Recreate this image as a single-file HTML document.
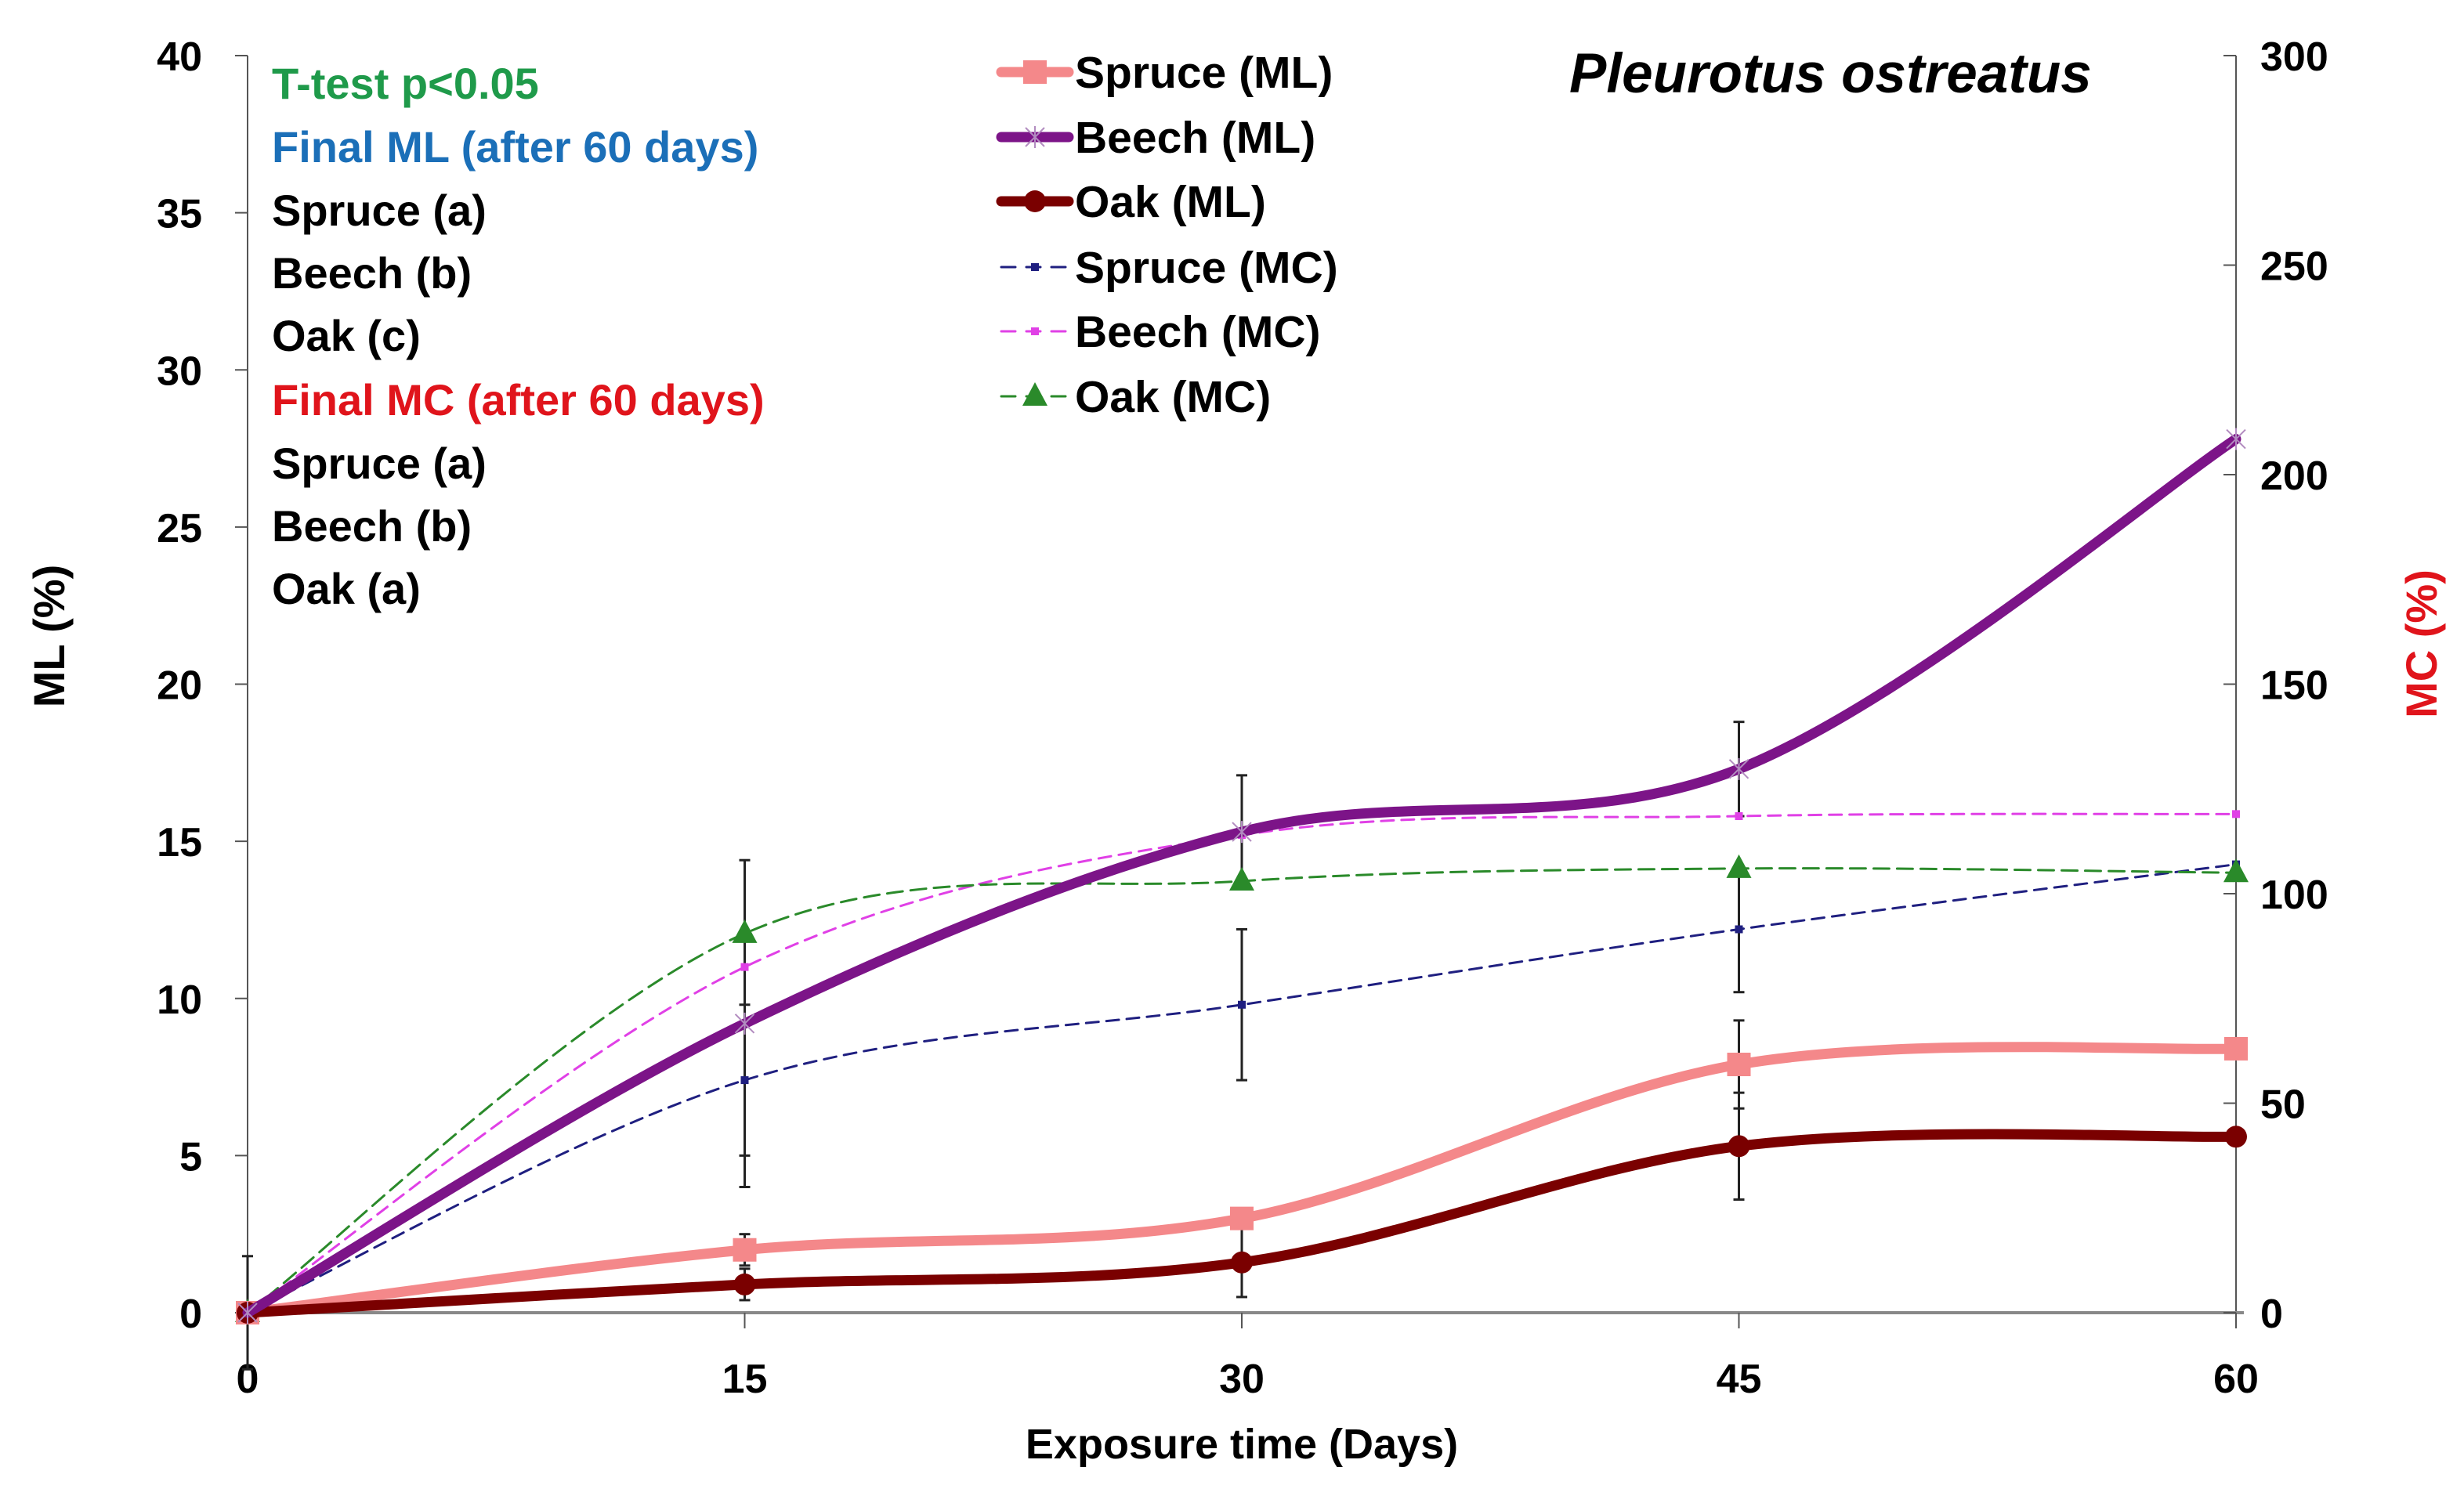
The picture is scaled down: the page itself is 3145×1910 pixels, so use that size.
<!DOCTYPE html>
<html><head><meta charset="utf-8"><style>
html,body{margin:0;padding:0;background:#fff;}
svg{display:block;font-family:"Liberation Sans",sans-serif;font-weight:bold;}
</style></head><body>
<svg id="chart" width="3145" height="1910" viewBox="0 0 3145 1910" xmlns="http://www.w3.org/2000/svg">
<g id="axes"></g>
<g id="series"></g>
<g id="legend"></g>
<text x="2003" y="118" font-size="71" font-style="italic" fill="#000">Pleurotus ostreatus</text>
<g font-size="56">
<text x="347" y="126" fill="#1f9a4a">T-test p&lt;0.05</text>
<text x="347" y="207" fill="#1b6fb8">Final ML (after 60 days)</text>
<text x="347" y="288" fill="#000">Spruce (a)</text>
<text x="347" y="368" fill="#000">Beech (b)</text>
<text x="347" y="448" fill="#000">Oak (c)</text>
<text x="347" y="530" fill="#e0141b">Final MC (after 60 days)</text>
<text x="347" y="611" fill="#000">Spruce (a)</text>
<text x="347" y="691" fill="#000">Beech (b)</text>
<text x="347" y="771" fill="#000">Oak (a)</text>
</g>
<text x="1585" y="1862" font-size="54" text-anchor="middle">Exposure time (Days)</text>
<text transform="translate(82,812) rotate(-90)" font-size="56" text-anchor="middle">ML (%)</text>
<text transform="translate(3110,822) rotate(-90)" font-size="56" text-anchor="middle" fill="#e0141b">MC (%)</text>
</svg>
<script>
const days = [0, 15, 30, 45, 60];
const leftTicks = [0, 5, 10, 15, 20, 25, 30, 35, 40];
const rightTicks = [0, 50, 100, 150, 200, 250, 300];
const spruceML = [0, 2.0, 3.0, 7.9, 8.4];
const beechML = [0, 9.2, 15.3, 17.3, 27.8];
const oakML = [0, 0.9, 1.6, 5.3, 5.6];
const spruceMC = [0, 55.5, 73.5, 91.5, 107];
const beechMC = [0, 82.5, 114, 118.5, 119];
const oakMC = [0, 90.5, 103, 106, 105];
const beechMLErr = [1.8, 5.2, 1.8, 1.5, 0];
const spruceMLErr = [0, 0.5, 0, 1.4, 0];
const oakMLErr = [0, 0.5, 1.1, 1.7, 0];
const spruceMCErr = [0, 18, 18, 15, 0];

const NS = "http://www.w3.org/2000/svg";
const X0 = 316, X1 = 2854, Y0 = 1676, YT = 71;
const xS = d => X0 + (d - 0) / 60 * (X1 - X0);
const yL = v => Y0 - v / 40 * (Y0 - YT);
const yR = v => Y0 - v / 300 * (Y0 - YT);
function mk(tag, attrs, parent) { const e = document.createElementNS(NS, tag); for (const k in attrs) e.setAttribute(k, attrs[k]); parent.appendChild(e); return e; }
const axes = document.getElementById('axes'), ser = document.getElementById('series'), leg = document.getElementById('legend');

let a = mk('line', {x1: X0, y1: YT, x2: X0, y2: Y0, stroke: '#555', 'stroke-width': 2}, axes);
 
a = mk('line', {x1: X1, y1: YT, x2: X1, y2: Y0, stroke: '#555', 'stroke-width': 2}, axes);
 
a = mk('line', {x1: X0, y1: Y0, x2: X1 + 10, y2: Y0, stroke: '#888', 'stroke-width': 4}, axes);
 
leftTicks.forEach(v => {
  mk('line', {x1: X0 - 16, y1: yL(v), x2: X0, y2: yL(v), stroke: '#555', 'stroke-width': 2}, axes);
  const t = mk('text', {x: 258, y: yL(v) + 19, 'font-size': 52, 'text-anchor': 'end'}, axes);
  t.textContent = v;
   
});
rightTicks.forEach(v => {
  mk('line', {x1: X1 - 16, y1: yR(v), x2: X1, y2: yR(v), stroke: '#555', 'stroke-width': 2}, axes);
  const t = mk('text', {x: 2885, y: yR(v) + 19, 'font-size': 52}, axes);
  t.textContent = v;
   
});
days.forEach(d => {
  mk('line', {x1: xS(d), y1: Y0, x2: xS(d), y2: Y0 + 20, stroke: '#555', 'stroke-width': 2}, axes);
  const t = mk('text', {x: xS(d), y: 1778, 'font-size': 52, 'text-anchor': 'middle'}, axes);
  t.textContent = d;
   
});

function smooth(pts) {
  let d = `M${pts[0][0]},${pts[0][1]}`;
  for (let i = 0; i < pts.length - 1; i++) {
    const p0 = pts[i - 1] || pts[i], p1 = pts[i], p2 = pts[i + 1], p3 = pts[i + 2] || p2;
    const t = 6;
    d += ` C${p1[0] + (p2[0] - p0[0]) / t},${p1[1] + (p2[1] - p0[1]) / t} ${p2[0] - (p3[0] - p1[0]) / t},${p2[1] - (p3[1] - p1[1]) / t} ${p2[0]},${p2[1]}`;
  }
  return d;
}
function errBars(vals, errs, ys, name) {
  vals.forEach((v, i) => {
    if (!errs[i]) return;
    const x = xS(days[i]);
    const g = mk('g', {stroke: '#222', 'stroke-width': 3}, ser);
     
    mk('line', {x1: x, y1: ys(v - errs[i]), x2: x, y2: ys(v + errs[i])}, g);
    mk('line', {x1: x - 7, y1: ys(v - errs[i]), x2: x + 7, y2: ys(v - errs[i])}, g);
    mk('line', {x1: x - 7, y1: ys(v + errs[i]), x2: x + 7, y2: ys(v + errs[i])}, g);
  });
}
function marker(type, x, y, color, g) {
  if (type === 'square') mk('rect', {x: x - 15, y: y - 15, width: 30, height: 30, fill: color}, g);
  else if (type === 'circle') mk('circle', {cx: x, cy: y, r: 14, fill: color}, g);
  else if (type === 'tri') mk('polygon', {points: `${x},${y - 18} ${x - 16},${y + 12} ${x + 16},${y + 12}`, fill: color}, g);
  else if (type === 'dot') mk('rect', {x: x - 5, y: y - 5, width: 10, height: 10, fill: color}, g);
  else if (type === 'x') { mk('path', {d: `M${x - 12},${y - 12}L${x + 12},${y + 12}M${x + 12},${y - 12}L${x - 12},${y + 12}M${x},${y - 14}L${x},${y + 14}`, stroke: '#b28cc0', 'stroke-width': 2}, g); }
}
function series(vals, ys, color, width, dash, mtype, name) {
  const g = mk('g', {}, ser);
   
  const pts = vals.map((v, i) => [xS(days[i]), ys(v)]);
  const p = mk('path', {d: smooth(pts), fill: 'none', stroke: color, 'stroke-width': width, 'stroke-linecap': 'round'}, g);
  if (dash) p.setAttribute('stroke-dasharray', dash);
   
  pts.forEach(q => marker(mtype, q[0], q[1], color, g));
}
errBars(beechML, beechMLErr, yL, 'beech-ml-error-bars');
errBars(spruceML, spruceMLErr, yL, 'spruce-ml-error-bars');
errBars(oakML, oakMLErr, yL, 'oak-ml-error-bars');
errBars(spruceMC, spruceMCErr, yR, 'spruce-mc-error-bars');
series(spruceMC, yR, '#1f1f80', 3, '16,10', 'dot', 'spruce-mc-series');
series(beechMC, yR, '#e040e6', 3, '16,10', 'dot', 'beech-mc-series');
series(oakMC, yR, '#2a8a2a', 3, '20,10', 'tri', 'oak-mc-series');
series(spruceML, yL, '#f4888a', 13, null, 'square', 'spruce-ml-series');
series(oakML, yL, '#7a0000', 13, null, 'circle', 'oak-ml-series');
series(beechML, yL, '#7c1488', 13, null, 'x', 'beech-ml-series');

const legItems = [
  ['Spruce (ML)', '#f4888a', 13, null, 'square'],
  ['Beech (ML)', '#7c1488', 13, null, 'x'],
  ['Oak (ML)', '#7a0000', 13, null, 'circle'],
  ['Spruce (MC)', '#1f1f80', 3, '18,14', 'dot'],
  ['Beech (MC)', '#e040e6', 3, '18,14', 'dot'],
  ['Oak (MC)', '#2a8a2a', 3, '18,14', 'tri']
];
const legY = [92, 175, 257, 341, 423, 506];
legItems.forEach((it, i) => {
  const g = mk('g', {}, leg);
   
  const y = legY[i];
  const l = mk('line', {x1: 1278, y1: y, x2: 1364, y2: y, stroke: it[1], 'stroke-width': it[2], 'stroke-linecap': 'round'}, g);
  if (it[3]) l.setAttribute('stroke-dasharray', it[3]);
  marker(it[4], 1321, y, it[1], g);
  const t = mk('text', {x: 1372, y: y + 20, 'font-size': 57}, g);
  t.textContent = it[0];
});
</script>
</body></html>
